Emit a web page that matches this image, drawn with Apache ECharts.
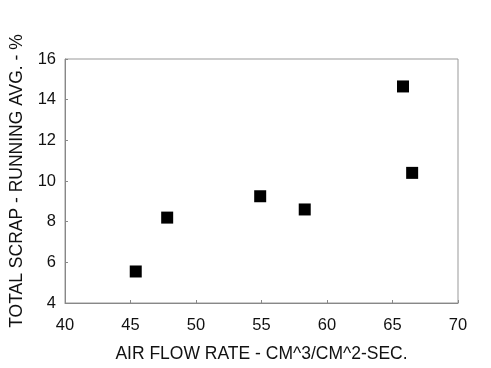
<!DOCTYPE html>
<html>
<head>
<meta charset="utf-8">
<script src="https://cdn.jsdelivr.net/npm/echarts@6/dist/echarts.min.js"></script>
<style>html,body{margin:0;padding:0;background:#fff;}#c{width:491px;height:368px;}</style>
</head>
<body>
<div id="c"></div>
<script>
const airFlow = [45.4, 47.8, 54.9, 58.3, 65.8, 66.5];
const scrap = [5.55, 8.2, 9.25, 8.6, 14.65, 10.4];
const xTicks = [40, 45, 50, 55, 60, 65, 70];
const yTicks = [4, 6, 8, 10, 12, 14, 16];

const chart = echarts.init(document.getElementById('c'), null, {renderer: 'canvas'});
const font = 'Liberation Sans, Arial, sans-serif';
chart.setOption({
  animation: false,
  backgroundColor: '#fff',
  grid: {left: 61, right: 33, top: 59, bottom: 63, show: true, borderColor: '#999', borderWidth: 1, backgroundColor: 'transparent'},
  xAxis: {
    type: 'value', min: xTicks[0], max: xTicks[xTicks.length - 1], interval: 5,
    name: 'AIR FLOW RATE - CM^3/CM^2-SEC.', nameLocation: 'middle', nameGap: 42,
    nameTextStyle: {fontFamily: font, fontSize: 17.5, color: '#111'},
    axisLine: {show: true, lineStyle: {color: '#888', width: 1}},
    axisTick: {show: true, inside: true, length: 3, lineStyle: {color: '#888'}},
    axisLabel: {fontFamily: font, fontSize: 16.5, color: '#111', margin: 14},
    splitLine: {show: false}
  },
  yAxis: {
    type: 'value', min: yTicks[0], max: yTicks[yTicks.length - 1], interval: 2,
    name: 'TOTAL SCRAP - RUNNING AVG. - %', nameLocation: 'middle', nameGap: 39, nameRotate: 90,
    nameTextStyle: {fontFamily: font, fontSize: 17.5, color: '#111'},
    axisLine: {show: true, lineStyle: {color: '#888', width: 1}},
    axisTick: {show: true, inside: true, length: 3, lineStyle: {color: '#888'}},
    axisLabel: {fontFamily: font, fontSize: 16.5, color: '#111', margin: 9},
    splitLine: {show: false}
  },
  series: [{
    type: 'scatter',
    data: airFlow.map((x, i) => [x, scrap[i]]),
    symbol: 'rect', symbolSize: 12,
    itemStyle: {color: '#000', opacity: 1}
  }]
});
</script>
</body>
</html>
